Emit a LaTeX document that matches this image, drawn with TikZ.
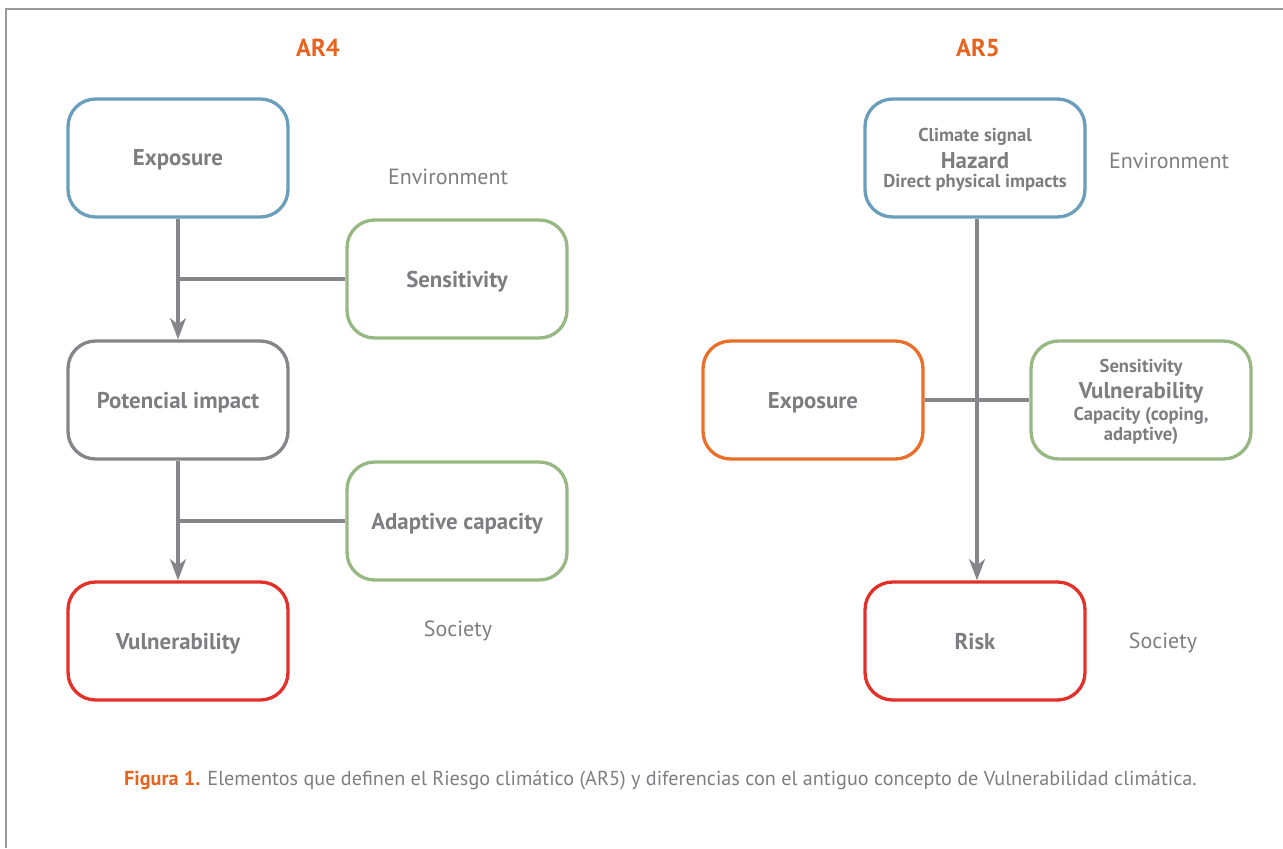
\documentclass[tikz,border=0pt]{standalone}
\usepackage{fontspec}
\setmainfont{PT Sans}
\usetikzlibrary{arrows.meta}
\definecolor{txtgray}{HTML}{7E7E82}
\definecolor{linegray}{HTML}{86868A}
\definecolor{expblue}{HTML}{6A9EBC}
\definecolor{sensgreen}{HTML}{98B883}
\definecolor{riskred}{HTML}{E2312B}
\definecolor{exporange}{HTML}{E8702A}
\definecolor{titleorange}{HTML}{E8641E}
\newcommand{\smalltxt}{\fontsize{10.6}{11.5}\selectfont}
\newcommand{\bigtxt}{\fontsize{13}{11.5}\selectfont}
\begin{document}
\begin{tikzpicture}[
    x=0.02cm, y=-0.02cm,
    every node/.style={text=txtgray, font=\bfseries\fontsize{13}{11.5}\selectfont},
    box/.style={draw, line width=1.9pt, rounded corners=0.55cm, minimum width=4.4cm, minimum height=2.36cm, align=center, inner sep=2pt, text depth=0pt},
    side/.style={font=\fontsize{12.5}{14}\selectfont},
    title/.style={text=titleorange, font=\bfseries\fontsize{14}{16}\selectfont},
    link/.style={draw=linegray, line width=1.9pt},
    arrow/.style={link, -{Stealth[length=12pt, width=9pt, inset=3.5pt]}}
]
\useasboundingbox (0,0) rectangle (1283,848);
\draw[gray!80, line width=1.1pt] (1283,9) -- (6,9) -- (6,848);

% AR4
\node[title] (ar4) at (318,48) {AR4};
\node[box, draw=expblue] (exp4) at (178,158) {Exposure};
\node[box, draw=sensgreen] (sens4) at (457,279) {Sensitivity};
\node[box, draw=linegray] (pot4) at (178,400) {Potencial impact};
\node[box, draw=sensgreen] (adap4) at (457,521) {Adaptive capacity};
\node[box, draw=riskred] (vul4) at (178,641) {Vulnerability};
\node[side] (env4) at (448,177) {Environment};
\node[side] (soc4) at (458,631) {Society};
\draw[arrow] (exp4) -- (pot4);
\draw[link] (sens4.west) -- (exp4.south |- sens4.west);
\draw[arrow] (pot4) -- (vul4);
\draw[link] (adap4.west) -- (pot4.south |- adap4.west);

% AR5
\node[title] (ar5) at (978,48) {AR5};
\node[box, draw=expblue] (haz5) at (975,158) {{\smalltxt Climate signal}\\[3.5pt]{\bigtxt Hazard}\\[-0.5pt]{\smalltxt Direct physical impacts}};
\node[box, draw=exporange] (exp5) at (813,400) {Exposure};
\node[box, draw=sensgreen] (vul5) at (1141,400) {{\smalltxt Sensitivity}\\[3.5pt]{\bigtxt Vulnerability}\\[1pt]{\smalltxt Capacity (coping,}\\{\smalltxt adaptive)}};
\node[box, draw=riskred] (risk5) at (975,641) {Risk};
\node[side] (env5) at (1169,161) {Environment};
\node[side] (soc5) at (1163,643) {Society};
\draw[arrow] (haz5.south -| 977,0) -- (risk5.north -| 977,0);
\draw[link] (exp5) -- (vul5);

% caption
\node[anchor=west, font=\fontsize{11.5}{13}\selectfont] (cap) at (118,780) {{\bfseries\color{titleorange}Figura 1.} Elementos que definen el Riesgo climático (AR5) y diferencias con el antiguo concepto de Vulnerabilidad climática.};
\end{tikzpicture}
\end{document}
